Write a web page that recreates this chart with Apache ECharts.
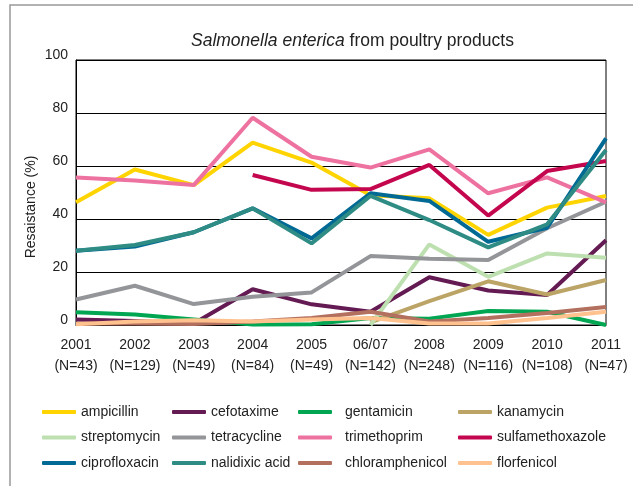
<!DOCTYPE html>
<html>
<head>
<meta charset="utf-8">
<script src="https://cdn.jsdelivr.net/npm/echarts@6/dist/echarts.min.js"></script>
<style>html,body{margin:0;padding:0;background:#fff;}#c{width:633px;height:486px;}</style>
</head>
<body>
<div id="c"></div>
<script>
var categories = ['2001','2002','2003','2004','2005','06/07','2008','2009','2010','2011'];
var sampleSizes = [43,129,49,84,49,142,248,116,108,47];
var yTicks = [0,20,40,60,80,100];

var ampicillin       = [46.3, 58.7, 52.8, 68.8, 61.3, 49.0, 47.8, 34.0, 44.3, 48.7];
var cefotaxime       = [2.1, 1.5, 0.6, 13.5, 7.8, 5.0, 18.0, 13.0, 11.3, 32.0];
var gentamicin       = [4.8, 4.0, 2.1, 0.2, 0.3, 2.6, 2.4, 5.3, 5.0, 0.0];
var kanamycin        = [null, null, null, null, null, 1.0, 9.0, 16.5, 11.5, 17.0];
var streptomycin     = [null, null, null, null, null, 0.0, 30.4, 18.2, 27.0, 25.4];
var tetracycline     = [9.6, 14.8, 7.9, 10.7, 12.3, 26.0, 25.0, 24.5, 36.5, 46.5];
var trimethoprim     = [55.7, 54.5, 52.8, 78.2, 63.5, 59.4, 66.3, 49.7, 55.7, 46.3];
var sulfamethoxazole = [null, null, null, 56.6, 51.0, 51.3, 60.4, 41.3, 58.1, 61.9];
var ciprofloxacin    = [28.0, 29.6, 35.0, 44.0, 32.7, 49.7, 46.8, 31.4, 36.7, 70.4];
var nalidixicAcid    = [28.0, 30.2, 35.0, 44.0, 30.8, 48.7, 39.6, 29.3, 38.0, 66.0];
var chloramphenicol  = [0.6, 0.6, 0.4, 1.3, 2.6, 5.0, 1.3, 2.6, 4.5, 6.8];
var florfenicol      = [0.3, 1.3, 1.8, 1.3, 2.1, 2.6, 0.6, 0.6, 2.6, 5.0];

var seriesNames = ['ampicillin','cefotaxime','gentamicin','kanamycin','streptomycin','tetracycline',
  'trimethoprim','sulfamethoxazole','ciprofloxacin','nalidixic acid','chloramphenicol','florfenicol'];
var seriesData = [ampicillin, cefotaxime, gentamicin, kanamycin, streptomycin, tetracycline,
  trimethoprim, sulfamethoxazole, ciprofloxacin, nalidixicAcid, chloramphenicol, florfenicol];
var seriesColors = ['#FFD400','#641A52','#00A651','#BBA466','#BEE0B0','#939598',
  '#EE72A0','#C4064E','#006A94','#2E8C85','#B3705F','#FFC28E'];

var FONT = '"Liberation Sans", Arial, sans-serif';
var chart = echarts.init(document.getElementById('c'));

var series = seriesNames.map(function (n, i) {
  return {
    name: n, type: 'line', data: seriesData[i], symbol: 'none', connectNulls: false,
    lineStyle: { width: 4, color: seriesColors[i] }, itemStyle: { color: seriesColors[i] },
    z: 2 + i * 0.01
  };
});

function legendCol(names, left, padLeft) {
  return {
    orient: 'vertical', left: left, top: 404, padding: 0, itemWidth: 34, itemHeight: 4, itemGap: 9.5,
    icon: 'roundRect', data: names,
    textStyle: { fontFamily: FONT, fontSize: 14, color: '#222', lineHeight: 16, padding: [0,0,0,padLeft] }
  };
}

chart.setOption({
  animation: false,
  backgroundColor: '#fff',
  title: {
    text: '{i|Salmonella enterica} from poultry products',
    left: 186, top: 27,
    textStyle: {
      fontFamily: FONT, fontSize: 17.5, fontWeight: 'normal', color: '#222',
      rich: { i: { fontFamily: FONT, fontSize: 17.5, fontStyle: 'italic', color: '#222' } }
    }
  },
  grid: { left: 76, right: 27, top: 60, bottom: 161, show: true, borderColor: '#000', borderWidth: 1, backgroundColor: 'transparent' },
  legend: [
    legendCol(['ampicillin','streptomycin','ciprofloxacin'], 42, 0),
    legendCol(['cefotaxime','tetracycline','nalidixic acid'], 172, 0),
    legendCol(['gentamicin','trimethoprim','chloramphenicol'], 298, 8),
    legendCol(['kanamycin','sulfamethoxazole','florfenicol'], 458, 0)
  ],
  xAxis: {
    type: 'category', data: categories, boundaryGap: false,
    axisLine: { show: true, lineStyle: { color: '#000', width: 1 } },
    axisTick: { show: false },
    splitLine: { show: false },
    axisLabel: {
      interval: 0, margin: 10, color: '#222', fontFamily: FONT, fontSize: 14, lineHeight: 21,
      formatter: function (v, i) { return v + '\n(N=' + sampleSizes[i] + ')'; }
    }
  },
  yAxis: {
    type: 'value', min: yTicks[0], max: yTicks[yTicks.length - 1], interval: 20,
    axisLine: { show: true, lineStyle: { color: '#000', width: 1 } },
    axisTick: { show: false },
    splitLine: { show: true, lineStyle: { color: '#000', width: 1 } },
    axisLabel: { margin: 8, color: '#222', fontFamily: FONT, fontSize: 14, verticalAlign: 'bottom', lineHeight: 10 }
  },
  graphic: [
    { type: 'polyline', shape: { points: [[10, 486], [10, 5], [633, 5]] }, style: { stroke: '#999', lineWidth: 1.5, fill: null }, silent: true },
    { type: 'text', x: 31, y: 207, rotation: Math.PI / 2,
      style: { text: 'Resaistance (%)', fontFamily: FONT, fontSize: 14, fill: '#222', align: 'center', verticalAlign: 'middle' } }
  ],
  series: series
});
</script>
</body>
</html>
